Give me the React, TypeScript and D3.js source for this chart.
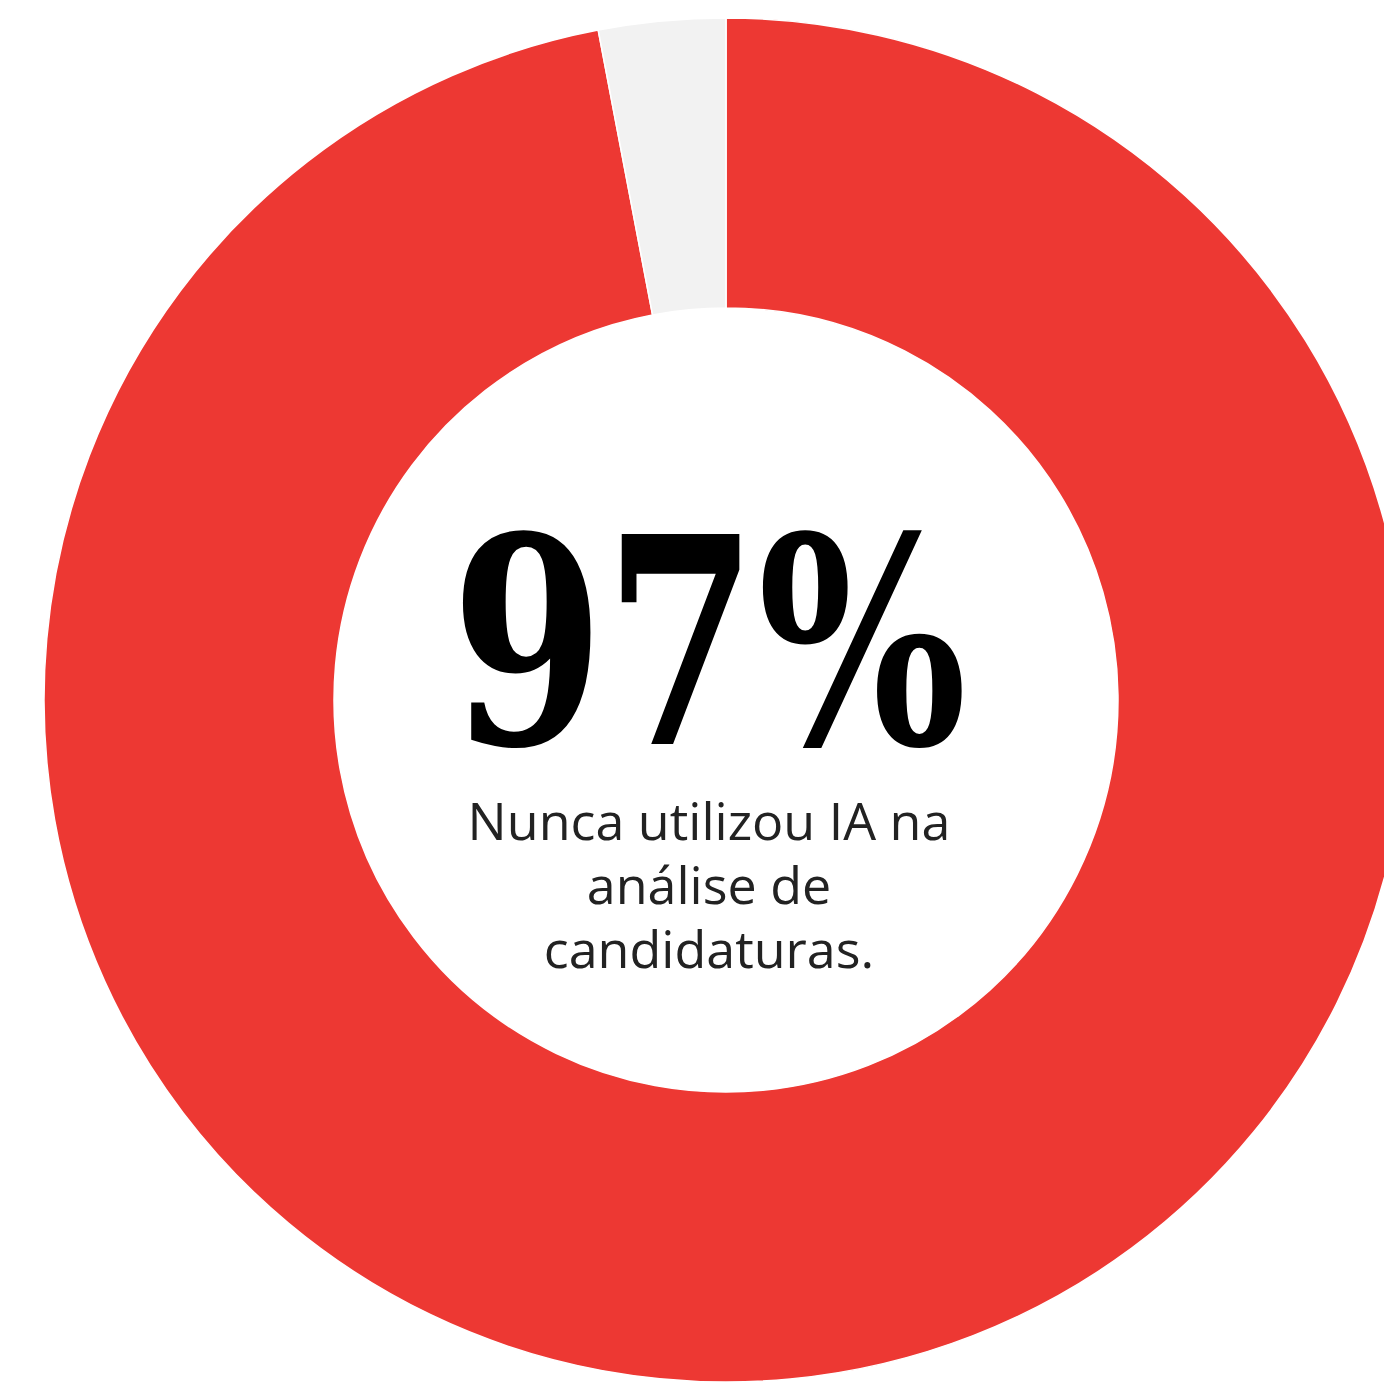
import React from "react";
import * as d3 from "d3";

const categories = ["Nunca utilizou IA", "Já utilizou IA"];
const values = [97, 3];
const colors = ["#ed3833", "#f2f2f2"];
const bigLabel = "97%";
const captionLines = ["Nunca utilizou IA na", "análise de", "candidaturas."];

const W = 1384;
const H = 1385;

export default function App() {
  const cx = 726;
  const cy = 700;
  const outerR = 682;
  const innerR = 392;

  const pie = d3
    .pie<number>()
    .sort(null)
    .value((d) => d)
    .startAngle(0)
    .endAngle(2 * Math.PI);
  const arcs = pie(values);
  const arc = d3.arc<d3.PieArcDatum<number>>().innerRadius(innerR).outerRadius(outerR);

  const textX = 709;

  return (
    <svg
      width={W}
      height={H}
      viewBox={`0 0 ${W} ${H}`}
      style={{ position: "absolute", left: 0, top: 0, display: "block", overflow: "hidden", background: "#fff" }}
    >
      <g transform={`translate(${cx},${cy})`}>
        {arcs.map((a, i) => (
          <path key={categories[i]} d={arc(a) || ""} fill={colors[i]} stroke="#fff" strokeWidth={1.5} />
        ))}
      </g>
      <text
        x={textX}
        y={744}
        textAnchor="middle"
        fontFamily="'DejaVu Serif', 'Liberation Serif', serif"
        fontWeight={900}
        fontSize={288}
        textLength={516}
        lengthAdjust="spacingAndGlyphs"
        fill="#000"
      >
        {bigLabel}
      </text>
      {captionLines.map((line, i) => (
        <text
          key={line}
          x={textX}
          y={840 + i * 64}
          textAnchor="middle"
          fontFamily="'Open Sans', 'Noto Sans', sans-serif"
          fontSize={52}
          fill="#222"
        >
          {line}
        </text>
      ))}
    </svg>
  );
}
